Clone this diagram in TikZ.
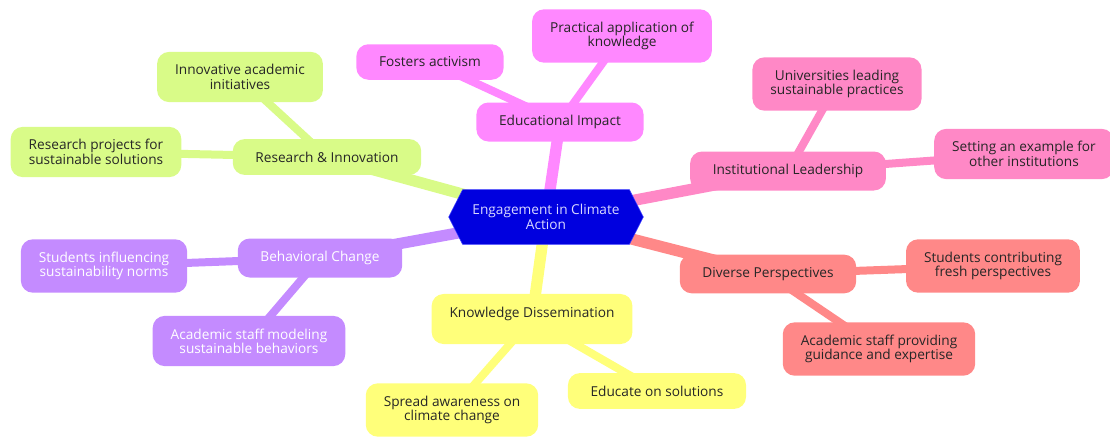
\documentclass[tikz,border=0pt]{standalone}
\usepackage{fontspec}
\setmainfont{Open Sans}
\usetikzlibrary{shapes.symbols, backgrounds}

\definecolor{rootBlue}{HTML}{0000DF}
\definecolor{limeSec}{HTML}{D9FB88}
\definecolor{pinkSec}{HTML}{FF88FF}
\definecolor{roseSec}{HTML}{FF88C6}
\definecolor{redSec}{HTML}{FF8888}
\definecolor{yellowSec}{HTML}{FFFF7A}
\definecolor{purpleSec}{HTML}{C48BFF}

\tikzset{
  idea/.style={rounded corners=9pt, inner xsep=17pt, inner ysep=9.5pt, align=center,
    font=\fontsize{10.25}{10.75}\selectfont, text=black!85},
  twoline/.style={idea, inner xsep=13.5pt},
  branch/.style={line width=8.5pt},
  leaf/.style={line width=6pt},
}

\begin{document}
\begin{tikzpicture}[x=0.75pt, y=-0.75pt]

\useasboundingbox (0,0) rectangle (1110,436);

%% root
\node[signal, signal to=east and west, signal pointer angle=126, fill=rootBlue, draw=blue!75,
  minimum width=146pt, minimum height=41pt, inner sep=0pt, align=center,
  font=\fontsize{10.25}{10.75}\selectfont, text=blue!15] (root) at (546,217)
  {Engagement in Climate\\Action};

%% Research & Innovation
\node[idea, fill=limeSec] (resInno) at (327,157) {Research \& Innovation};
\node[twoline, fill=limeSec] (resInit) at (240,77) {Innovative academic\\initiatives};
\node[twoline, fill=limeSec] (resProj) at (96,152) {Research projects for\\sustainable solutions};

%% Educational Impact
\node[idea, fill=pinkSec] (eduImp) at (560,122) {Educational Impact};
\node[idea, fill=pinkSec] (eduAct) at (430,62) {Fosters activism};
\node[twoline, fill=pinkSec] (eduApp) at (622,36) {Practical application of\\knowledge};

%% Institutional Leadership
\node[idea, fill=roseSec] (instLead) at (788,171) {Institutional Leadership};
\node[twoline, fill=roseSec] (instUni) at (837,84) {Universities leading\\sustainable practices};
\node[twoline, fill=roseSec] (instEx) at (1024,154) {Setting an example for\\other institutions};

%% Diverse Perspectives
\node[idea, fill=redSec] (divPer) at (768,274) {Diverse Perspectives};
\node[twoline, fill=redSec] (divStu) at (993,266) {Students contributing\\fresh perspectives};
\node[twoline, fill=redSec] (divStaff) at (879,349) {Academic staff providing\\guidance and expertise};

%% Knowledge Dissemination
\node[twoline, fill=yellowSec] (knowDis) at (532,319) {Knowledge Dissemination\\\mbox{}};
\node[idea, fill=yellowSec] (knowEdu) at (657,391) {Educate on solutions};
\node[twoline, fill=yellowSec] (knowSpr) at (452,410) {Spread awareness on\\climate change};

%% Behavioral Change
\node[idea, fill=purpleSec, text=white] (behCh) at (320,258) {Behavioral Change};
\node[twoline, fill=purpleSec, text=white] (behStu) at (104,266) {Students influencing\\sustainability norms};
\node[twoline, fill=purpleSec, text=white] (behStaff) at (249,341) {Academic staff modeling\\sustainable behaviors};

%% edges
\begin{scope}[on background layer]
  \draw[branch, limeSec] (root.center) -- (resInno.center);
  \draw[leaf, limeSec] (resInno.center) -- (resInit.center);
  \draw[leaf, limeSec] (resInno.center) -- (resProj.center);

  \draw[branch, pinkSec] (root.center) -- (eduImp.center);
  \draw[leaf, pinkSec] (eduImp.center) -- (eduAct.center);
  \draw[leaf, pinkSec] (eduImp.center) -- (eduApp.center);

  \draw[branch, roseSec] (root.center) -- (instLead.center);
  \draw[leaf, roseSec] (instLead.center) -- (instUni.center);
  \draw[leaf, roseSec] (instLead.center) -- (instEx.center);

  \draw[branch, redSec] (root.center) -- (divPer.center);
  \draw[leaf, redSec] (divPer.center) -- (divStu.center);
  \draw[leaf, redSec] (divPer.center) -- (divStaff.center);

  \draw[branch, yellowSec] (root.center) -- (knowDis.center);
  \draw[leaf, yellowSec] (knowDis.center) -- (knowEdu.center);
  \draw[leaf, yellowSec] (knowDis.center) -- (knowSpr.center);

  \draw[branch, purpleSec] (root.center) -- (behCh.center);
  \draw[leaf, purpleSec] (behCh.center) -- (behStu.center);
  \draw[leaf, purpleSec] (behCh.center) -- (behStaff.center);
\end{scope}

\end{tikzpicture}
\end{document}
